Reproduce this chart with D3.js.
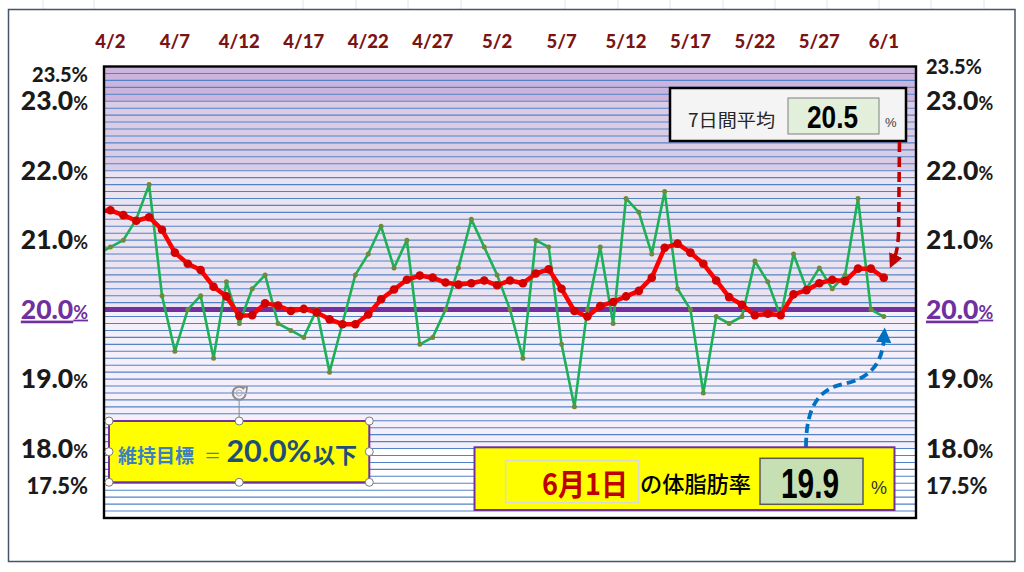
<!DOCTYPE html>
<html><head><meta charset="utf-8">
<script src="https://cdn.jsdelivr.net/npm/d3@7/dist/d3.min.js"></script>
<style>html,body{margin:0;padding:0;background:#fff}svg{display:block}</style>
</head><body>
<svg id="chart" width="1024" height="572"></svg>
<script>
// ---------------- data ----------------
const dates = ["4/1","4/2","4/3","4/4","4/5","4/6","4/7","4/8","4/9","4/10","4/11","4/12","4/13","4/14","4/15","4/16","4/17","4/18","4/19","4/20","4/21","4/22","4/23","4/24","4/25","4/26","4/27","4/28","4/29","4/30",
 "5/1","5/2","5/3","5/4","5/5","5/6","5/7","5/8","5/9","5/10","5/11","5/12","5/13","5/14","5/15","5/16","5/17","5/18","5/19","5/20","5/21","5/22","5/23","5/24","5/25","5/26","5/27","5/28","5/29","5/30","5/31","6/1"];
const bodyFat = [20.8,20.9,21.0,21.3,21.8,20.2,19.4,20.0,20.2,19.3,20.4,19.8,20.3,20.5,19.8,19.7,19.6,20.0,19.1,19.8,20.5,20.8,21.2,20.6,21.0,19.5,19.6,20.0,20.6,21.3,
 20.9,20.5,20.0,19.3,21.0,20.9,19.5,18.6,20.0,20.9,19.8,21.6,21.4,20.8,21.7,20.3,20.0,18.8,19.9,19.8,19.9,20.7,20.4,19.9,20.8,20.3,20.6,20.3,20.5,21.6,20.0,19.9];
const avg7 = [21.41,21.43,21.36,21.28,21.33,21.15,20.82,20.66,20.57,20.33,20.19,19.91,19.92,20.09,20.06,19.98,20.01,19.96,19.86,19.79,19.79,19.93,20.15,20.29,20.43,20.49,20.46,20.39,20.36,20.38,
 20.42,20.35,20.42,20.38,20.52,20.58,20.30,19.98,19.90,20.05,20.11,20.19,20.27,20.46,20.89,20.95,20.82,20.66,20.42,20.18,20.07,19.92,19.94,19.92,20.22,20.28,20.38,20.43,20.41,20.59,20.59,20.46];
const xTickLabels = ["4/2","4/7","4/12","4/17","4/22","4/27","5/2","5/7","5/12","5/17","5/22","5/27","6/1"];
const yTickValues = [23.5,23.0,22.0,21.0,20.0,19.0,18.0,17.5];
const yTickLabels = ["23.5","23.0","22.0","21.0","20.0","19.0","18.0","17.5"];
const targetValue = 20.0;
const avgLabel = "7日間平均", avgValue = "20.5";
const latestDate = "6月1日", latestLabel = "の体脂肪率", latestValue = "19.9";
const goalLabel = "維持目標", goalValue = "20.0%", goalSuffix = "以下";

// ---------------- layout ----------------
const svg = d3.select("#chart");
const P = {l:104, r:916, t:66.5, b:518};
const x = d3.scaleLinear().domain([0.5, dates.length + 1.5]).range([P.l, P.r]);
const y = d3.scaleLinear().domain([17, 23.5]).range([P.b, P.t]);
const idx = d => dates.indexOf(d);

// faint spreadsheet cell lines above the frame
[43,94,303,356,408,461,565,618,670,723,775,827,879,931,984].forEach(cx=>{
  svg.append("line").attr("x1",cx).attr("x2",cx).attr("y1",0).attr("y2",9).attr("stroke","#e4e4e4").attr("stroke-width",1);
});
// outer frame
svg.append("rect").attr("x",8.5).attr("y",9.5).attr("width",1006.5).attr("height",552)
  .attr("fill","#fff").attr("stroke","#44546a").attr("stroke-width",1.5);

// background bands
const bands = [[23,23.5,"#cbb5dc"],[22,23,"#dbcce6"],[20,22,"#ebe3f0"],[18,20,"#f4eff8"],[17,18,"#ffffff"]];
svg.append("g").selectAll("rect").data(bands).join("rect")
  .attr("x",P.l).attr("width",P.r-P.l)
  .attr("y",d=>y(d[1])).attr("height",d=>y(d[0])-y(d[1])).attr("fill",d=>d[2]);

// grid lines every 0.1
const grid = d3.range(171,235).map(v=>v/10);
svg.append("g").selectAll("line").data(grid).join("line")
  .attr("x1",P.l).attr("x2",P.r).attr("y1",d=>y(d)).attr("y2",d=>y(d))
  .attr("stroke","#5283c9").attr("stroke-width",1.1);

// target line
svg.append("line").attr("x1",P.l).attr("x2",P.r+1).attr("y1",y(targetValue)).attr("y2",y(targetValue))
  .attr("stroke","#7030a0").attr("stroke-width",5);

// clip
svg.append("clipPath").attr("id","clip").append("rect").attr("x",P.l).attr("y",P.t).attr("width",P.r-P.l).attr("height",P.b-P.t);
const gs = svg.append("g").attr("clip-path","url(#clip)");

const lineGen = vals => d3.line().x((d,i)=>x(i)).y(d=>y(d))(vals);
// daily line
gs.append("path").attr("d",lineGen(bodyFat)).attr("fill","none").attr("stroke","#1db058").attr("stroke-width",2.6).attr("stroke-linejoin","round");
gs.append("g").selectAll("circle").data(bodyFat).join("circle")
  .attr("cx",(d,i)=>x(i)).attr("cy",d=>y(d)).attr("r",2.5).attr("fill","#6c8a3c");
// 7-day average line
gs.append("path").attr("d",lineGen(avg7)).attr("fill","none").attr("stroke","#ff0000").attr("stroke-width",4.5).attr("stroke-linejoin","round");
gs.append("g").selectAll("circle").data(avg7).join("circle")
  .attr("cx",(d,i)=>x(i)).attr("cy",d=>y(d)).attr("r",4.3).attr("fill","#d40000");

// plot border
svg.append("rect").attr("x",P.l).attr("y",P.t).attr("width",P.r-P.l).attr("height",P.b-P.t)
  .attr("fill","none").attr("stroke","#000").attr("stroke-width",2.4);

// x labels (top)
svg.append("g").selectAll("text").data(xTickLabels).join("text")
  .attr("x",d=>x(idx(d))).attr("y",48).attr("text-anchor","middle")
  .attr("font-family","Lato, 'Open Sans', sans-serif").attr("font-weight","900").attr("font-size",18.5)
  .attr("fill","#7a1414").text(d=>d);

// y labels both sides
function yLabel(side){
  const g = svg.append("g");
  yTickValues.forEach((v,i)=>{
    const lab = yTickLabels[i];
    const small = (v===23.5), mid = (v===17.5);
    let dy = 9;
    if (small) dy = side==="left" ? 15 : 7;
    if (mid) dy = 11;
    const big = small ? 20 : (mid ? 22 : 26.5);
    const pct = small ? 20 : (mid ? 22 : 18);
    const isT = v===targetValue;
    const t = g.append("text")
      .attr("x", side==="left" ? 88 : 926).attr("y", y(v)+dy)
      .attr("text-anchor", side==="left" ? "end" : "start")
      .attr("font-family","Lato, 'Open Sans', sans-serif").attr("font-weight","900")
      .attr("fill", isT ? "#7030a0" : "#1a1a1a")
      .style("text-decoration", isT ? "underline" : "none");
    t.append("tspan").attr("font-size",big).text(lab);
    t.append("tspan").attr("font-size",pct).attr("font-weight","bold").text("%");
  });
}
yLabel("left"); yLabel("right");

// ---------- top-right average box ----------
svg.append("rect").attr("x",670).attr("y",88).attr("width",236).attr("height",53)
  .attr("fill","#f4f4f4").attr("stroke","#000").attr("stroke-width",2.5);
svg.append("text").attr("x",688).attr("y",127).attr("font-family","'Noto Sans CJK JP', sans-serif")
  .attr("font-size",18).attr("textLength",87).attr("lengthAdjust","spacingAndGlyphs").attr("fill","#262626").text(avgLabel);
svg.append("rect").attr("x",788).attr("y",98).attr("width",91).attr("height",36)
  .attr("fill","#e2efda").attr("stroke","#7f7f7f").attr("stroke-width",1);
svg.append("text").attr("x",807).attr("y",128).attr("font-family","'Liberation Sans', Arial, sans-serif")
  .attr("font-weight","bold").attr("font-size",31).attr("textLength",51).attr("lengthAdjust","spacingAndGlyphs").attr("fill","#000").text(avgValue);
svg.append("text").attr("x",885).attr("y",127).attr("font-family","'Liberation Sans', sans-serif")
  .attr("font-size",13).attr("fill","#404040").text("%");

// arrows
const defs = svg.append("defs");
function marker(id,color){
  defs.append("marker").attr("id",id).attr("viewBox","0 0 10 10").attr("refX",3).attr("refY",5)
    .attr("markerWidth",4).attr("markerHeight",4).attr("orient","auto").attr("markerUnits","strokeWidth")
    .append("path").attr("d","M0,0 L10,5 L0,10 z").attr("fill",color);
}
marker("mr","#c00000"); marker("mb","#0070c0");
svg.append("path").attr("d","M899.5,142 L898.6,232 Q898,250 894,259")
  .attr("fill","none").attr("stroke","#c00000").attr("stroke-width",3.6).attr("stroke-dasharray","10 5")
  .attr("marker-end","url(#mr)");
svg.append("path").attr("d","M806,447 C806,405 820,389 843,384 C868,379 882,366 884,338")
  .attr("fill","none").attr("stroke","#0070c0").attr("stroke-width",3.8).attr("stroke-dasharray","9 5")
  .attr("marker-end","url(#mb)");

// ---------- bottom latest box ----------
svg.append("rect").attr("x",474.5).attr("y",447.3).attr("width",420).attr("height",62.7)
  .attr("fill","#ffff00").attr("stroke","#7030a0").attr("stroke-width",2);
svg.append("rect").attr("x",505.6).attr("y",460.7).attr("width",133).attr("height",42)
  .attr("fill","#ffff00").attr("stroke","#d9d9d9").attr("stroke-width",1.5);
svg.append("text").attr("x",542).attr("y",494.5).attr("font-family","'Noto Sans CJK JP', sans-serif")
  .attr("font-weight","bold").attr("font-size",30).attr("textLength",86).attr("lengthAdjust","spacingAndGlyphs")
  .attr("fill","#c00000").text(latestDate);
svg.append("text").attr("x",640).attr("y",491.5).attr("font-family","'Noto Sans CJK JP', sans-serif")
  .attr("font-weight","500").attr("font-size",22).attr("textLength",111).attr("lengthAdjust","spacingAndGlyphs").attr("fill","#000").text(latestLabel);
svg.append("rect").attr("x",760).attr("y",458.3).attr("width",103).attr("height",46)
  .attr("fill","#c6e0b4").attr("stroke","#595959").attr("stroke-width",1.5);
svg.append("text").attr("x",781).attr("y",498).attr("font-family","'Liberation Sans', Arial, sans-serif")
  .attr("font-weight","bold").attr("font-size",42).attr("textLength",58).attr("lengthAdjust","spacingAndGlyphs").attr("fill","#000").text(latestValue);
svg.append("text").attr("x",871).attr("y",494).attr("font-family","'Liberation Sans', sans-serif")
  .attr("font-size",18).attr("fill","#333").text("%");

// ---------- left goal box ----------
const gb = {x:109, y:421, w:260.3, h:61.3};
svg.append("rect").attr("x",gb.x).attr("y",gb.y).attr("width",gb.w).attr("height",gb.h)
  .attr("fill","#ffff00").attr("stroke","#7030a0").attr("stroke-width",2);
svg.append("text").attr("x",118).attr("y",463).attr("font-family","'Noto Sans CJK JP', sans-serif")
  .attr("font-weight","bold").attr("font-size",19).attr("fill","#3b7fc4").text(goalLabel);
svg.append("text").attr("x",204).attr("y",462).attr("font-family","'Noto Sans CJK JP', sans-serif")
  .attr("font-size",17).attr("fill","#3b7fc4").text("＝");
svg.append("text").attr("x",226.5).attr("y",462).attr("font-family","Lato, 'Open Sans', sans-serif")
  .attr("font-weight","bold").attr("font-size",31).attr("textLength",85).attr("lengthAdjust","spacingAndGlyphs").attr("fill","#1f4e79").text(goalValue);
svg.append("text").attr("x",313).attr("y",463).attr("font-family","'Noto Sans CJK JP', sans-serif")
  .attr("font-weight","bold").attr("font-size",22).attr("fill","#1f4e79").text(goalSuffix);
// selection handles
svg.append("line").attr("x1",gb.x+gb.w/2).attr("x2",gb.x+gb.w/2).attr("y1",gb.y).attr("y2",gb.y-20)
  .attr("stroke","#8c8c8c").attr("stroke-width",1);
const rc = {x:gb.x+gb.w/2, y:gb.y-28};
svg.append("path").attr("d",`M${rc.x+5},${rc.y-4} A6.5,6.5 0 1 0 ${rc.x+6.5},${rc.y+1}`)
  .attr("fill","none").attr("stroke","#8c8c8c").attr("stroke-width",2);
svg.append("path").attr("d",`M${rc.x+2},${rc.y-6} L${rc.x+8},${rc.y-6} L${rc.x+7},${rc.y}`)
  .attr("fill","none").attr("stroke","#8c8c8c").attr("stroke-width",1.6);
svg.append("circle").attr("cx",rc.x).attr("cy",rc.y).attr("r",3).attr("fill","none").attr("stroke","#b0b0b0").attr("stroke-width",1);
const hx=[gb.x,gb.x+gb.w/2,gb.x+gb.w], hy=[gb.y,gb.y+gb.h/2,gb.y+gb.h];
hx.forEach((a,i)=>hy.forEach((b,j)=>{
  if(i===1&&j===1) return;
  svg.append("circle").attr("cx",a).attr("cy",b).attr("r",4).attr("fill","#fff").attr("stroke","#7a7a7a").attr("stroke-width",1);
}));
</script>
</body></html>
